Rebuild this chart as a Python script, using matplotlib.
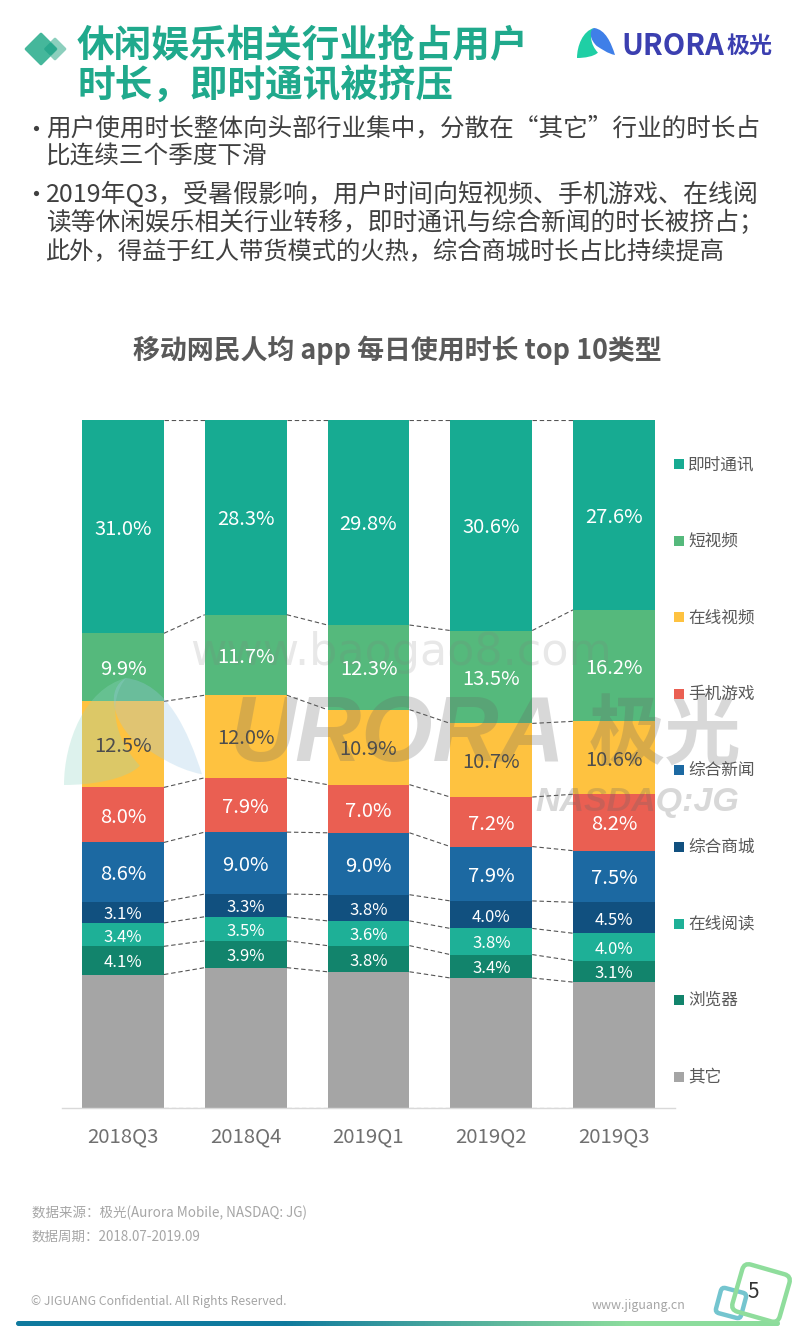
import numpy as np
import matplotlib
matplotlib.use("Agg")
import matplotlib.pyplot as plt
from matplotlib.colors import LinearSegmentedColormap
from matplotlib.patches import FancyBboxPatch, PathPatch
from matplotlib.path import Path
from matplotlib.transforms import Affine2D

plt.rcParams["font.family"] = ["Noto Sans CJK SC", "DejaVu Sans"]

quarters = ["2018Q3", "2018Q4", "2019Q1", "2019Q2", "2019Q3"]
# top of the stack first, same order as the legend
categories = ["即时通讯", "短视频", "在线视频", "手机游戏", "综合新闻", "综合商城", "在线阅读", "浏览器", "其它"]
im = [31.0, 28.3, 29.8, 30.6, 27.6]
short_video = [9.9, 11.7, 12.3, 13.5, 16.2]
online_video = [12.5, 12.0, 10.9, 10.7, 10.6]
games = [8.0, 7.9, 7.0, 7.2, 8.2]
news = [8.6, 9.0, 9.0, 7.9, 7.5]
shopping = [3.1, 3.3, 3.8, 4.0, 4.5]
reading = [3.4, 3.5, 3.6, 3.8, 4.0]
browser = [4.1, 3.9, 3.8, 3.4, 3.1]
other = [19.4, 20.4, 19.8, 18.9, 18.3]
series = [im, short_video, online_video, games, news, shopping, reading, browser, other]
colors = ["#17ab92", "#55b97c", "#fec240", "#ea5f52", "#1c69a2", "#11507f", "#1eb097", "#12846c", "#a5a5a5"]

W, H = 800, 1334
fig = plt.figure(figsize=(W / 100, H / 100), dpi=100, facecolor="white")

# chart axes, placed in pixels
left, right, top, bottom = 62, 675, 420, 1108
ax = fig.add_axes([left / W, 1 - bottom / H, (right - left) / W, (bottom - top) / H])
step = 122.75
ax.set_xlim((left - 123) / step, (right - 123) / step)
ax.set_ylim(0, 100)
for s in ["top", "left", "right"]:
    ax.spines[s].set_visible(False)
ax.spines["bottom"].set_color("#d9d9d9")
ax.spines["bottom"].set_linewidth(1)
ax.set_yticks([])
ax.set_xticks(range(len(quarters)))
ax.set_xticklabels(quarters, fontsize=14.7, color="#707070")
ax.tick_params(axis="x", length=0, pad=13)

# overlay in pixel coordinates for everything around the chart
ov = fig.add_axes([0, 0, 1, 1], zorder=5)
ov.set_xlim(0, W)
ov.set_ylim(H, 0)
ov.axis("off")
ov.patch.set_alpha(0)

x = np.arange(len(quarters))
bar_w = 0.668
stack_top = np.full(len(quarters), 100.0)
for name, vals, col in zip(categories, series, colors):
    vals = np.array(vals)
    ax.bar(x, vals, bar_w, bottom=stack_top - vals, color=col, edgecolor="none", label=name)
    if name != "其它":
        for i, v in enumerate(vals):
            tc = "#4d4d4d" if name == "在线视频" else "white"
            fs = 12 if v < 5 else 14.5
            # labels sit on the overlay so they stay above the watermark
            ov.text(x[i], stack_top[i] - v / 2 - 0.35, f"{v:.1f}%", ha="center", va="center",
                    fontsize=fs, color=tc, zorder=6, transform=ax.transData)
    stack_top = stack_top - vals
    # dashed connectors between neighbouring bars
    for i in range(len(quarters) - 1):
        ax.plot([x[i] + bar_w / 2, x[i + 1] - bar_w / 2], [stack_top[i], stack_top[i + 1]],
                color="#555555", lw=0.8, ls=(0, (4, 2.5)))
for i in range(len(quarters) - 1):
    ax.plot([x[i] + bar_w / 2, x[i + 1] - bar_w / 2], [100, 100],
            color="#555555", lw=0.8, ls=(0, (4, 2.5)))

# legend
for i, (name, col) in enumerate(zip(categories, colors)):
    y = 464 + i * 76.6
    ov.scatter([679], [y], marker="s", s=42, color=col, linewidths=0, zorder=6)
    ov.text(688, y + 0.5, name, fontsize=12, color="#595959", va="center", zorder=6)

# title block
ov.text(77, 46, "休闲娱乐相关行业抢占用户", fontsize=27.1, weight="bold", color="#20a98c", va="center")
ov.text(77, 85, "时长，即时通讯被挤压", fontsize=27.1, weight="bold", color="#20a98c", va="center")


def diamond(cx, cy, r, col, alpha=1.0):
    pts = [(cx - r, cy), (cx, cy - r), (cx + r, cy), (cx, cy + r), (cx - r, cy)]
    codes = [Path.MOVETO] + [Path.LINETO] * 3 + [Path.CLOSEPOLY]
    ov.add_patch(PathPatch(Path(pts, codes), fc=col, ec=col, lw=2, joinstyle="round", alpha=alpha))


diamond(55, 49, 10, "#8ccfbd")
diamond(41, 49, 15, "#45b79b")
diamond(50.5, 49, 5, "#2aa88d")

# bullets, line sizes nudged so each line ends where it does in the slide
body = [
    (129, 17.7, "用户使用时长整体向头部行业集中，分散在“其它”行业的时长占"),
    (157, 17.7, "比连续三个季度下滑"),
    (195, 18.0, "2019年Q3，受暑假影响，用户时间向短视频、手机游戏、在线阅"),
    (223, 17.8, "读等休闲娱乐相关行业转移，即时通讯与综合新闻的时长被挤占；"),
    (252, 17.5, "此外，得益于红人带货模式的火热，综合商城时长占比持续提高"),
]
for y, fs, line in body:
    ov.text(46, y, line, fontsize=fs, color="#404040", va="center")
ov.scatter([36, 36], [128, 193], s=14, color="#404040", linewidths=0)


# arch-shaped logo, two lobes
def logo(px, py, w, h, c_left, c_right, alpha=1.0):
    right_lobe = Path([(0.45, 0.0), (0.75, 0.05), (0.9, 0.5), (1.0, 0.9),
                       (0.8, 0.85), (0.65, 0.7), (0.52, 0.6), (0.35, 0.4), (0.3, 0.1), (0.45, 0.0)],
                      [Path.MOVETO] + [Path.CURVE4] * 9)
    left_lobe = Path([(0.45, 0.0), (0.15, 0.1), (0.0, 0.6), (0.0, 1.0),
                      (0.2, 1.0), (0.45, 0.95), (0.55, 0.82), (0.35, 0.55), (0.32, 0.2), (0.45, 0.0)],
                     [Path.MOVETO] + [Path.CURVE4] * 9)
    tr = Affine2D().scale(w, h).translate(px, py) + ov.transData
    ov.add_patch(PathPatch(left_lobe, transform=tr, fc=c_left, ec="none", alpha=alpha, zorder=2))
    ov.add_patch(PathPatch(right_lobe, transform=tr, fc=c_right, ec="none", alpha=alpha, zorder=2))


logo(577, 28, 38, 30, "#1fcfa5", "#3f7fe8")
ov.text(621, 46, "URORA", fontsize=21, weight="bold", color="#3b3fb0", va="center")
ov.text(727, 46, "极光", fontsize=16.6, weight="bold", color="#3b3fb0", va="center")

# chart title
ov.text(397, 350, "移动网民人均 app 每日使用时长 top 10类型", fontsize=19.4, weight="bold",
        color="#595959", ha="center", va="center")

# watermark
ov.text(190, 652, "www.baogao8.com", fontsize=32, color="#808080", alpha=0.18, va="center",
        family=["DejaVu Sans"], zorder=2)
logo(64, 678, 138, 107, "#8fd6c4", "#9cc9e6", alpha=0.3)
ov.text(230, 737, "URORA", fontsize=66, weight="bold", style="italic", color="#666666", alpha=0.25,
        va="center", family=["Liberation Sans"], zorder=2)
ov.text(589, 735, "极光", fontsize=55, weight="bold", color="#666666", alpha=0.25, va="center", zorder=2)
ov.text(535, 803, "NASDAQ:JG", fontsize=24.5, weight="bold", style="italic", color="#666666", alpha=0.25,
        va="center", family=["Liberation Sans"], zorder=2)

# footnotes
ov.text(32, 1213, "数据来源：极光(Aurora Mobile, NASDAQ: JG)", fontsize=9.7, style="italic", color="#a6a6a6", va="center")
ov.text(32, 1237, "数据周期：2018.07-2019.09", fontsize=9.7, style="italic", color="#a6a6a6", va="center")
ov.text(31, 1302, "© JIGUANG Confidential. All Rights Reserved.", fontsize=8.8, color="#a6a6a6", va="center")
ov.text(592, 1306, "www.jiguang.cn", fontsize=9, color="#a6a6a6", va="center")

# footer band with rounded ends
cmap = LinearSegmentedColormap.from_list("band", [(0, "#0f7a9e"), (0.35, "#0f7a9e"), (0.8, "#8cdc9c"), (1, "#8cdc9c")])
band = ov.imshow(np.linspace(0, 1, 256).reshape(1, -1), extent=(14, 782, 1326, 1321), cmap=cmap, aspect="auto", zorder=1)
clip = FancyBboxPatch((16, 1321), 764, 5, boxstyle="round,pad=0,rounding_size=2.5", fc="none", ec="none")
ov.add_patch(clip)
band.set_clip_path(clip)
ov.set_xlim(0, W)
ov.set_ylim(H, 0)


# page number badge
def badge(cx, cy, size, angle, col, lw, rnd):
    tr = Affine2D().rotate_deg_around(cx, cy, angle) + ov.transData
    ov.add_patch(FancyBboxPatch((cx - size / 2, cy - size / 2), size, size,
                                boxstyle=f"round,pad=0,rounding_size={rnd}", fc="none", ec=col, lw=lw, transform=tr, zorder=3))


badge(731, 1303, 26, 15, "#74c5cf", 3.2, 4)
badge(761, 1293, 49, 16, "#8fdd9c", 3.2, 7)
ov.text(753, 1292, "5", fontsize=15, color="#333333", ha="center", va="center", zorder=4)

fig.savefig("out.png", dpi=100)
